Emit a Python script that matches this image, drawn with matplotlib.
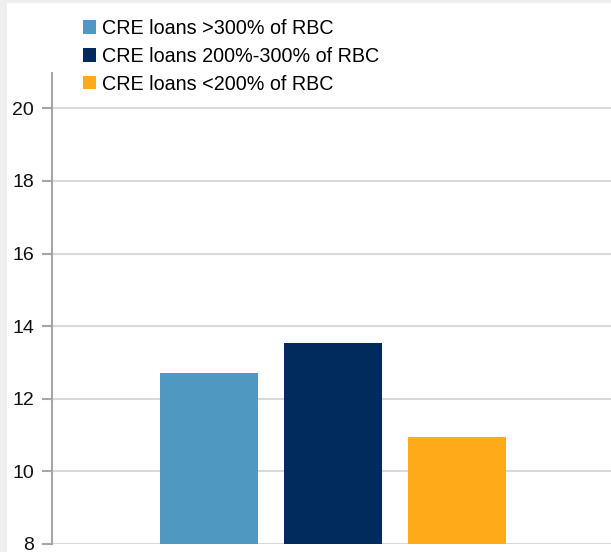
import matplotlib.pyplot as plt
from matplotlib.patches import Rectangle, Patch

# chart data
categories = ['CRE loans >300% of RBC', 'CRE loans 200%-300% of RBC', 'CRE loans <200% of RBC']
values = [12.71, 13.54, 10.95]
colors = ['#4F98C2', '#002B5C', '#FFAB19']
y_ticks = [8, 10, 12, 14, 16, 18, 20]

plt.rcParams['font.family'] = ['Liberation Sans', 'DejaVu Sans']

fig = plt.figure(figsize=(6.11, 5.52), dpi=100)
fig.patch.set_facecolor('#efefef')
# white panel inside the gray frame
fig.add_artist(Rectangle((7 / 611, 0), 1 - 7 / 611, 1 - 3 / 552, transform=fig.transFigure,
                         facecolor='white', edgecolor='none', zorder=0))

W, H = 611, 552
ax_left, ax_right = 52, 611
ax_top, ax_bottom = 72.7, 544
ax = fig.add_axes([ax_left / W, (H - ax_bottom) / H, (ax_right - ax_left) / W, (ax_bottom - ax_top) / H])
ax.set_facecolor('none')

x = [0, 1, 2]
ax.bar(x, values, width=0.79, color=colors, zorder=3)

ax.set_ylim(8, 20.98)
ax.set_xlim(-1.266, 3.242)
ax.set_yticks(y_ticks)
ax.set_xticks([])
ax.yaxis.grid(True, color='#d9d9d9', linewidth=1.5, zorder=0)
for s in ['top', 'right', 'bottom']:
    ax.spines[s].set_visible(False)
ax.spines['left'].set_color('#a6a6a6')
ax.spines['left'].set_linewidth(1.5)
ax.tick_params(axis='y', length=7, width=1.5, color='#a6a6a6', labelsize=14, pad=6, labelcolor='#111111')

handles = [Patch(facecolor=c, edgecolor='none') for c in colors]
fig.legend(handles, categories, loc='upper left', bbox_to_anchor=(83 / W, 1 - 19 / H),
           frameon=False, fontsize=14.2, handlelength=0.66, handleheight=0.66,
           handletextpad=0.3, labelspacing=0.45, borderaxespad=0, borderpad=0)

fig.savefig('out.png', dpi=100, facecolor=fig.get_facecolor())
